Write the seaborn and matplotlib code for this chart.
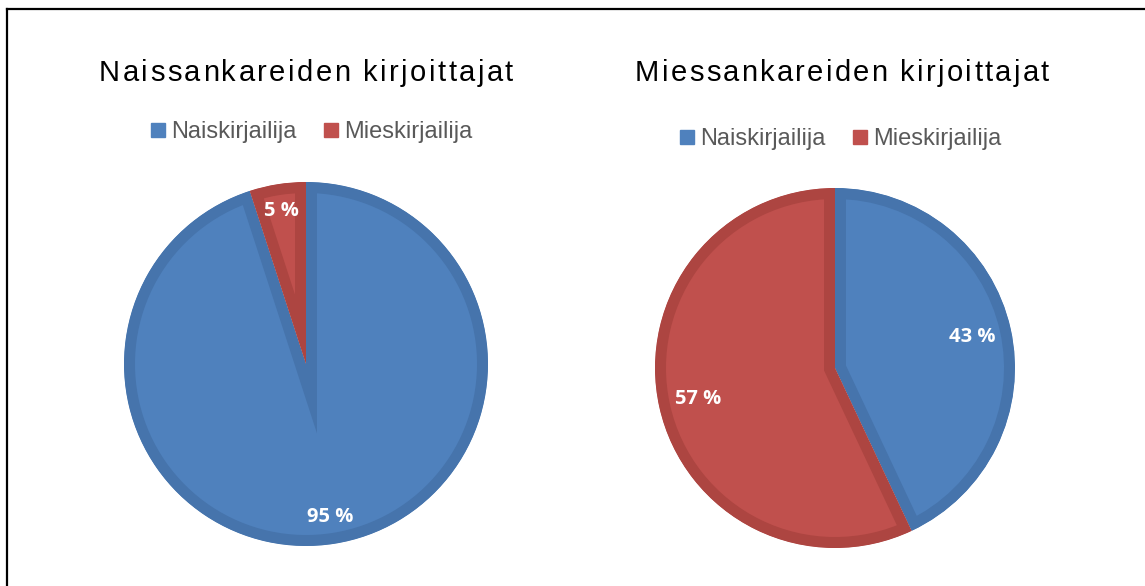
import matplotlib
matplotlib.use("Agg")
import matplotlib.pyplot as plt
import seaborn as sns
from matplotlib.lines import Line2D
from matplotlib.font_manager import FontProperties, findfont
from matplotlib.ft2font import FT2Font

# ---- data ----
categories = ["Naiskirjailija", "Mieskirjailija"]
titles = ["Naissankareiden kirjoittajat", "Miessankareiden kirjoittajat"]
female_heroes = [95, 5]   # Naissankareiden kirjoittajat
male_heroes = [43, 57]    # Miessankareiden kirjoittajat

sns.set_theme(style="white")
plt.rcParams['font.family'] = ['Liberation Sans', 'DejaVu Sans']

fills = sns.color_palette(["#4F81BD", "#C0504D"])
bands = ["#4674AC", "#AD4541"]

W, H = 1145, 586
fig = plt.figure(figsize=(W / 100, H / 100), dpi=100)
fig.patch.set_facecolor("white")

TITLE_PT = 21


def spaced_text(xc, ybase, s, size_pt, target_w, color="black"):
    """Draw letter-spaced text centred at xc (px), baseline at ybase (px from top)."""
    path = findfont(FontProperties(family="Liberation Sans"))
    font = FT2Font(path)
    font.set_size(size_pt, 100)
    advs = []
    for ch in s:
        g = font.load_char(ord(ch))
        advs.append(g.linearHoriAdvance / 65536)
    gap_px = max(0.0, (target_w - sum(advs)) / (len(s) - 1))
    total = sum(advs) + gap_px * (len(s) - 1)
    x = xc - total / 2
    for ch, a in zip(s, advs):
        if ch != " ":
            fig.text(x / W, 1 - ybase / H, ch, fontsize=size_pt, ha="left",
                     va="baseline", color=color, family="Liberation Sans")
        x += a + gap_px


pies = [
    dict(values=female_heroes, cx=306, cy=364, r=182, pd=0.85,
         tx=306, ty=81, tw=414, lx=311, ly=132),
    dict(values=male_heroes, cx=835, cy=368, r=180, pd=0.78,
         tx=842, ty=81, tw=414, lx=840, ly=139),
]

BAND_PX = 11
lw_pt = 2 * BAND_PX * 72 / 100

for title, p in zip(titles, pies):
    r = p["r"]
    ax = fig.add_axes([(p["cx"] - r) / W, (H - p["cy"] - r) / H, 2 * r / W, 2 * r / H])
    wedges, texts, autotexts = ax.pie(
        p["values"], colors=fills, startangle=90, counterclock=False,
        autopct=lambda v: f"{v:.0f} %", pctdistance=p["pd"],
        textprops=dict(color="white", fontweight="bold", fontsize=14.5,
                       family=["Open Sans", "DejaVu Sans"]),
        wedgeprops=dict(linewidth=lw_pt),
    )
    for w, bc in zip(wedges, bands):
        w.set_edgecolor(bc)
        w.set_clip_path(w)
        w.set_clip_on(True)
    ax.set_xlim(-1, 1)
    ax.set_ylim(-1, 1)
    ax.set_aspect("equal")
    ax.axis("off")

    spaced_text(p["tx"], p["ty"], title, TITLE_PT, p["tw"])

    handles = [Line2D([], [], marker="s", linestyle="", markersize=9.5,
                      markerfacecolor=c, markeredgecolor=c) for c in fills]
    fig.legend(handles, categories, loc="center",
               bbox_to_anchor=(p["lx"] / W, 1 - p["ly"] / H), ncol=2,
               frameon=False, handlelength=0.7, handletextpad=0.2,
               columnspacing=1.1, fontsize=17, labelcolor="#595959",
               borderpad=0, borderaxespad=0)

# outer frame (only left and top edges visible)
fig.add_artist(Line2D([7 / W, 7 / W], [1 - 9 / H, 0], transform=fig.transFigure,
                      color="black", linewidth=1.6, solid_capstyle="projecting"))
fig.add_artist(Line2D([7 / W, 1], [1 - 9 / H, 1 - 9 / H], transform=fig.transFigure,
                      color="black", linewidth=1.6, solid_capstyle="projecting"))

fig.savefig("out.png", dpi=100, facecolor="white")
